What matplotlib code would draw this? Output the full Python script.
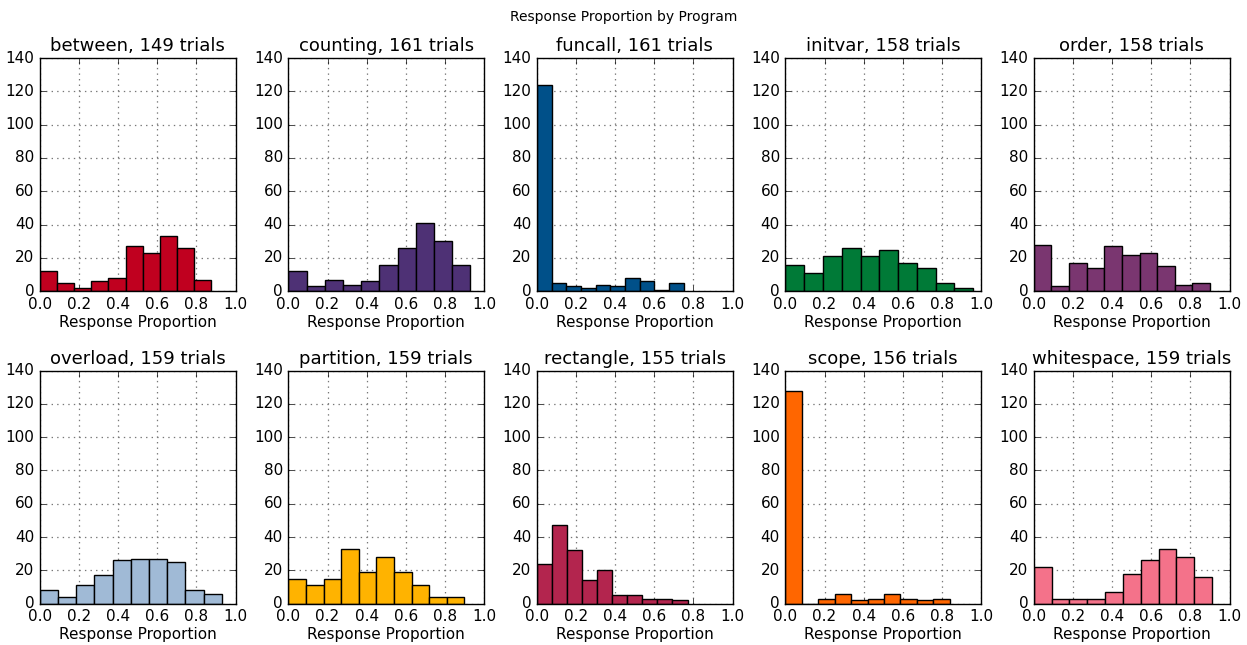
import numpy as np
import matplotlib
matplotlib.use("Agg")
import matplotlib.pyplot as plt

plt.style.use('classic')

programs = ['between', 'counting', 'funcall', 'initvar', 'order',
            'overload', 'partition', 'rectangle', 'scope', 'whitespace']
trials = [149, 161, 161, 158, 158, 159, 159, 155, 156, 159]
# upper edge of the histogram range (max response proportion)
range_max = [0.875, 0.93, 0.75, 0.96, 0.90, 0.93, 0.90, 0.77, 0.84, 0.91]
counts = [
    [12, 5, 2, 6, 8, 27, 23, 33, 26, 7],
    [12, 3, 7, 4, 6, 16, 26, 41, 30, 16],
    [124, 5, 3, 2, 4, 3, 8, 6, 1, 5],
    [16, 11, 21, 26, 21, 25, 17, 14, 5, 2],
    [28, 3, 17, 14, 27, 22, 23, 15, 4, 5],
    [8, 4, 11, 17, 26, 27, 27, 25, 8, 6],
    [15, 11, 15, 33, 19, 28, 19, 11, 4, 4],
    [24, 47, 32, 14, 20, 5, 5, 3, 3, 2],
    [128, 0, 3, 6, 2, 3, 6, 3, 2, 3],
    [22, 3, 3, 3, 7, 18, 26, 33, 28, 16],
]
colors = ['#C0001F', '#4E3175', '#005089', '#007A37', '#7A3670',
          '#A0BAD6', '#FFB300', '#B3254E', '#FF6600', '#F4728A']

fig, axes = plt.subplots(2, 5, figsize=(12.47, 6.45), dpi=100)
fig.patch.set_facecolor('white')

for ax, name, n, mx, c, col in zip(axes.flat, programs, trials, range_max, counts, colors):
    edges = np.linspace(0, mx, len(c) + 1)
    ax.bar(edges[:-1], c, width=np.diff(edges), align='edge',
           color=col, edgecolor='black', linewidth=1.0)
    ax.set_xlim(0, 1)
    ax.set_ylim(0, 140)
    ax.set_xticks(np.arange(0, 1.01, 0.2))
    ax.set_yticks(np.arange(0, 141, 20))
    ax.grid(True, linestyle=':', color='#777777', linewidth=0.9)
    ax.set_axisbelow(True)
    ax.tick_params(labelsize=11)
    ax.set_title('%s, %d trials' % (name, n), fontsize=13)
    ax.set_xlabel('Response Proportion', fontsize=11, labelpad=2)

fig.suptitle('Response Proportion by Program', fontsize=10, y=0.985)
plt.subplots_adjust(left=0.032, right=0.986, top=0.91, bottom=0.064,
                    wspace=0.27, hspace=0.34)
plt.savefig('out.png', dpi=100, facecolor='white')
